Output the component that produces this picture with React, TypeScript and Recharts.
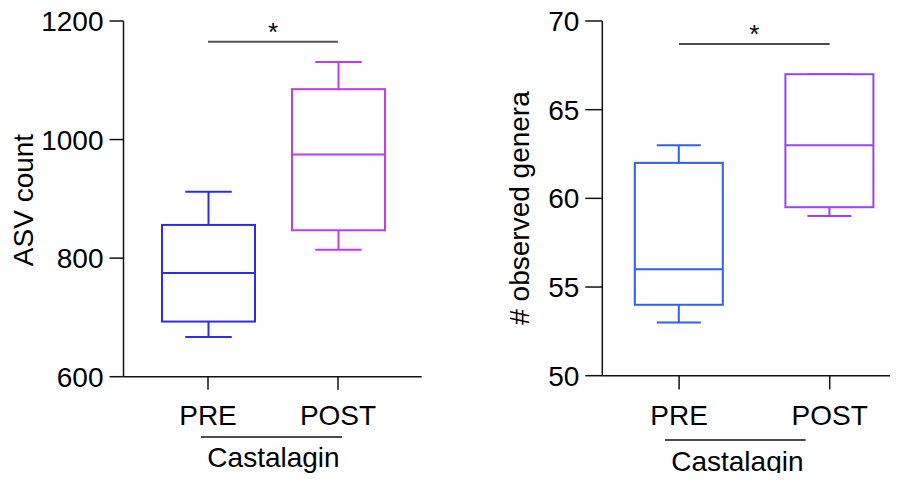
import React from 'react';
import { ComposedChart, Bar, XAxis, YAxis, ReferenceLine } from 'recharts';

const groups = ['PRE', 'POST'];

// ASV count (left panel)
const asvMin = [667, 814];
const asvQ1 = [693, 847];
const asvMedian = [775, 975];
const asvQ3 = [856, 1085];
const asvMax = [912, 1131];
const asvTicks = [600, 800, 1000, 1200];
const asvBracket = 1165;

// # observed genera (right panel)
const generaMin = [53, 59];
const generaQ1 = [54, 59.5];
const generaMedian = [56, 63];
const generaQ3 = [62, 67];
const generaMax = [63, 67];
const generaTicks = [50, 55, 60, 65, 70];
const generaBracket = 68.7;

const FONT = '"Liberation Sans", Arial, sans-serif';

const buildRows = (mn: number[], q1: number[], med: number[], q3: number[], mx: number[]) =>
  groups.map((g, i) => ({
    group: g,
    box: [q1[i], q3[i]],
    min: mn[i],
    q1: q1[i],
    median: med[i],
    q3: q3[i],
    max: mx[i],
  }));

const asvRows = buildRows(asvMin, asvQ1, asvMedian, asvQ3, asvMax);
const generaRows = buildRows(generaMin, generaQ1, generaMedian, generaQ3, generaMax);

function BoxShape(props: any) {
  const { x, y, width, height, payload, color } = props;
  const top = Math.min(y, y + height);
  const h = Math.abs(height);
  const { q1, q3, min, max, median } = payload;
  // map a value to pixels using the bar's own q1..q3 extent
  const py = (v: number) => top + ((q3 - v) * h) / (q3 - q1);
  const cx = x + width / 2;
  const cap = width / 4;
  return (
    <g stroke={color} strokeWidth={2} fill="none">
      <line x1={cx} x2={cx} y1={py(max)} y2={top} />
      <line x1={cx - cap} x2={cx + cap} y1={py(max)} y2={py(max)} />
      <line x1={cx} x2={cx} y1={top + h} y2={py(min)} />
      <line x1={cx - cap} x2={cx + cap} y1={py(min)} y2={py(min)} />
      <rect x={x} y={top} width={width} height={h} fill="#fff" />
      <line x1={x} x2={x + width} y1={py(median)} y2={py(median)} />
    </g>
  );
}

const YLabel = ({ text, x, y }: { text: string; x: number; y: number }) => (
  <text
    x={x}
    y={y}
    transform={`rotate(-90, ${x}, ${y})`}
    textAnchor="middle"
    fontSize={28}
    fontFamily={FONT}
    fill="#000"
  >
    {text}
  </text>
);

const GroupLabel = ({ x1, x2, lineY, textY }: { x1: number; x2: number; lineY: number; textY: number }) => (
  <g>
    <line x1={x1} x2={x2} y1={lineY} y2={lineY} stroke="#111" strokeWidth={1.5} />
    <text x={(x1 + x2) / 2 + 2} y={textY} textAnchor="middle" fontSize={28} fontFamily={FONT} fill="#000">
      Castalagin
    </text>
  </g>
);

const tickStyle = { fontSize: 28, fill: '#000', fontFamily: FONT };

export default function App() {
  return (
    <div
      style={{
        position: 'relative',
        width: 898,
        height: 481,
        margin: -8,
        overflow: 'hidden',
        background: '#fff',
        fontFamily: FONT,
      }}
    >
      <div style={{ position: 'absolute', left: 0, top: 0 }}>
        <ComposedChart
          width={450}
          height={481}
          data={asvRows}
          margin={{ top: 21, right: 28.3, bottom: 44.3, left: 43.5 }}
        >
          <XAxis
            dataKey="group"
            type="category"
            padding={{ left: 19.5, right: 18.7 }}
            height={60}
            tickSize={13}
            tickMargin={15}
            tick={tickStyle}
            stroke="#111"
            strokeWidth={1.5}
            label={{ content: () => <GroupLabel x1={201} x2={342} lineY={437} textY={467} /> }}
          />
          <YAxis
            domain={[600, 1200]}
            ticks={asvTicks}
            width={80}
            tickSize={14}
            tickMargin={6}
            tick={tickStyle}
            stroke="#111"
            strokeWidth={1.5}
            label={{ content: () => <YLabel text="ASV count" x={33} y={200} /> }}
          />
          <Bar
            dataKey="box"
            barSize={93}
            isAnimationActive={false}
            shape={(p: any) => <BoxShape {...p} color={p.index === 0 ? '#2b2bf2' : '#c03aee'} />}
          />
          <ReferenceLine
            segment={[
              { x: 'PRE', y: asvBracket },
              { x: 'POST', y: asvBracket },
            ]}
            stroke="#555"
            strokeWidth={2}
            label={{ value: '*', position: 'top', offset: 1, fontSize: 26, fill: '#000', fontFamily: FONT }}
          />
        </ComposedChart>
      </div>
      <div style={{ position: 'absolute', left: 450, top: 0 }}>
        <ComposedChart
          width={460}
          height={481}
          data={generaRows}
          margin={{ top: 21, right: 5, bottom: 45.3, left: 72.3 }}
        >
          <XAxis
            dataKey="group"
            type="category"
            padding={{ left: 1.5, right: 0 }}
            height={60}
            tickSize={13.7}
            tickMargin={16}
            tick={tickStyle}
            stroke="#111"
            strokeWidth={1.5}
            label={{ content: () => <GroupLabel x1={215} x2={355.7} lineY={440} textY={471} /> }}
          />
          <YAxis
            domain={[50, 70]}
            ticks={generaTicks}
            width={80}
            tickSize={17}
            tickMargin={6}
            tick={tickStyle}
            stroke="#111"
            strokeWidth={1.5}
            label={{ content: () => <YLabel text="# observed genera" x={79} y={208} /> }}
          />
          <Bar
            dataKey="box"
            barSize={88}
            isAnimationActive={false}
            shape={(p: any) => <BoxShape {...p} color={p.index === 0 ? '#2f5ff2' : '#9a45f2'} />}
          />
          <ReferenceLine
            segment={[
              { x: 'PRE', y: generaBracket },
              { x: 'POST', y: generaBracket },
            ]}
            stroke="#111"
            strokeWidth={1.5}
            label={{ value: '*', position: 'top', offset: 1, fontSize: 26, fill: '#000', fontFamily: FONT }}
          />
        </ComposedChart>
      </div>
    </div>
  );
}
